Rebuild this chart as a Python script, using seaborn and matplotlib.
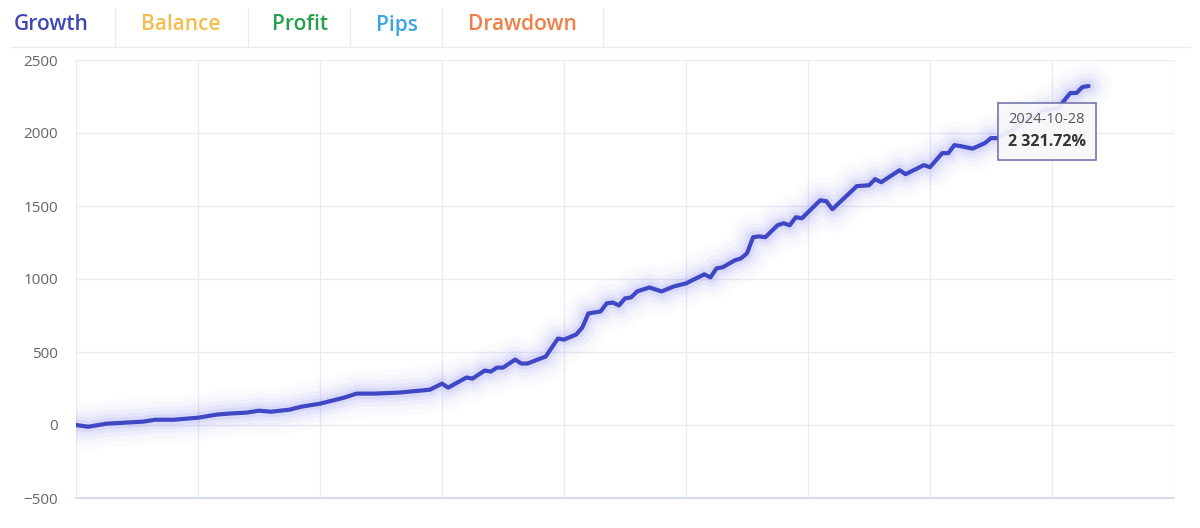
import matplotlib
matplotlib.use("Agg")
import matplotlib.pyplot as plt
from matplotlib.offsetbox import TextArea, VPacker, AnnotationBbox
import pandas as pd
import seaborn as sns

# growth curve (x = trading day index, y = growth %)
day = [0, 2, 5, 8, 11, 13, 16, 18, 20, 23, 25, 28, 30, 32, 35, 37, 40, 42, 44, 46,
       49, 53, 58, 60, 61, 64, 65, 67, 68, 69, 70, 72, 73, 74, 77, 79, 80, 82, 83, 84,
       86, 87, 88, 89, 90, 91, 92, 94, 96, 98, 100, 103, 104, 105, 106, 108, 109, 110,
       111, 112, 113, 115, 116, 117, 118, 119, 122, 123, 124, 128, 130, 131, 132, 135,
       136, 139, 140, 142, 143, 144, 145, 147, 149, 150, 151, 154, 156, 159, 161, 163,
       164, 165, 166]
growth = [0, -12, 9, 16, 23, 36, 36, 43, 50, 71, 78, 85, 98, 91, 105, 126, 146, 167, 188, 215,
          215, 222, 242, 283, 256, 325, 318, 373, 366, 393, 393, 448, 421, 421, 469, 592, 585, 620, 668, 764,
          778, 833, 839, 819, 867, 874, 915, 942, 915, 949, 970, 1032, 1011, 1073, 1080, 1128, 1141, 1176,
          1286, 1292, 1286, 1368, 1382, 1368, 1423, 1416, 1539, 1533, 1478, 1636, 1642, 1684, 1663, 1745,
          1718, 1780, 1766, 1862, 1862, 1917, 1910, 1893, 1931, 1965, 1965, 2034, 2102, 2157, 2171, 2274,
          2274, 2315, 2321.72]

tabs = ["Growth", "Balance", "Profit", "Pips", "Drawdown"]
tab_colors = ["#4047b5", "#f5bd4f", "#24a04e", "#3aa5e6", "#f07f45"]
tab_centers = [51, 181, 300, 397, 522]
tab_seps = [115, 248, 350, 442, 603]

tip_date = "2024-10-28"
tip_value = "2 321.72%"

df = pd.DataFrame({"day": day, "growth": growth})

sns.set_style("white")
plt.rcParams["font.family"] = ["Open Sans", "DejaVu Sans"]

fig = plt.figure(figsize=(12, 5.28), dpi=100)
ax = fig.add_axes([76 / 1200, 30 / 528, 1098 / 1200, 438 / 528])

# soft glow under the line
for lw, a in [(34, 0.025), (26, 0.035), (19, 0.05), (13, 0.07), (8, 0.10)]:
    sns.lineplot(data=df, x="day", y="growth", ax=ax, color="#7070ee",
                 linewidth=lw, alpha=a, solid_capstyle="round")
sns.lineplot(data=df, x="day", y="growth", ax=ax, color="#3f47c4", linewidth=3)

ax.set_xlim(0, 180)
ax.set_ylim(-500, 2500)
ax.set_xticks(range(0, 181, 20))
ax.set_yticks(range(-500, 2501, 500))
ax.set_xticklabels([])
ax.set_xlabel("")
ax.set_ylabel("")
ax.grid(True, color="#ebebf0", linewidth=1)
ax.tick_params(axis="both", length=0)
ax.tick_params(axis="y", labelsize=11, labelcolor="#666666", pad=13)
for s in ["top", "left", "right"]:
    ax.spines[s].set_visible(False)
ax.spines["bottom"].set_color("#ccd6eb")
ax.spines["bottom"].set_linewidth(1.2)

# tooltip for the last point
box = VPacker(children=[
    TextArea(tip_date, textprops=dict(color="#555555", fontsize=10.5)),
    TextArea(tip_value, textprops=dict(color="#333333", fontsize=11.5, fontweight="bold")),
], align="left", pad=7, sep=5)
ab = AnnotationBbox(box, (day[-1], growth[-1]), xybox=(-65, -12), boxcoords="offset points",
                    box_alignment=(0, 1), pad=0.1,
                    bboxprops=dict(boxstyle="square,pad=0", facecolor="#f8f8fa",
                                   edgecolor="#6b6ba8", linewidth=1.2, alpha=0.92))
ax.add_artist(ab)

# tab header
for name, col, cx in zip(tabs, tab_colors, tab_centers):
    fig.text(cx / 1200, 1 - 25 / 528, name, color=col, fontsize=15, fontweight="semibold",
             ha="center", va="center")
for sx in tab_seps:
    fig.add_artist(plt.Line2D([sx / 1200, sx / 1200], [1 - 8 / 528, 1 - 46 / 528],
                              color="#ececec", linewidth=1))
fig.add_artist(plt.Line2D([10 / 1200, 1190 / 1200], [1 - 47 / 528, 1 - 47 / 528],
                          color="#ececec", linewidth=1))

fig.savefig("out.png", dpi=100)
